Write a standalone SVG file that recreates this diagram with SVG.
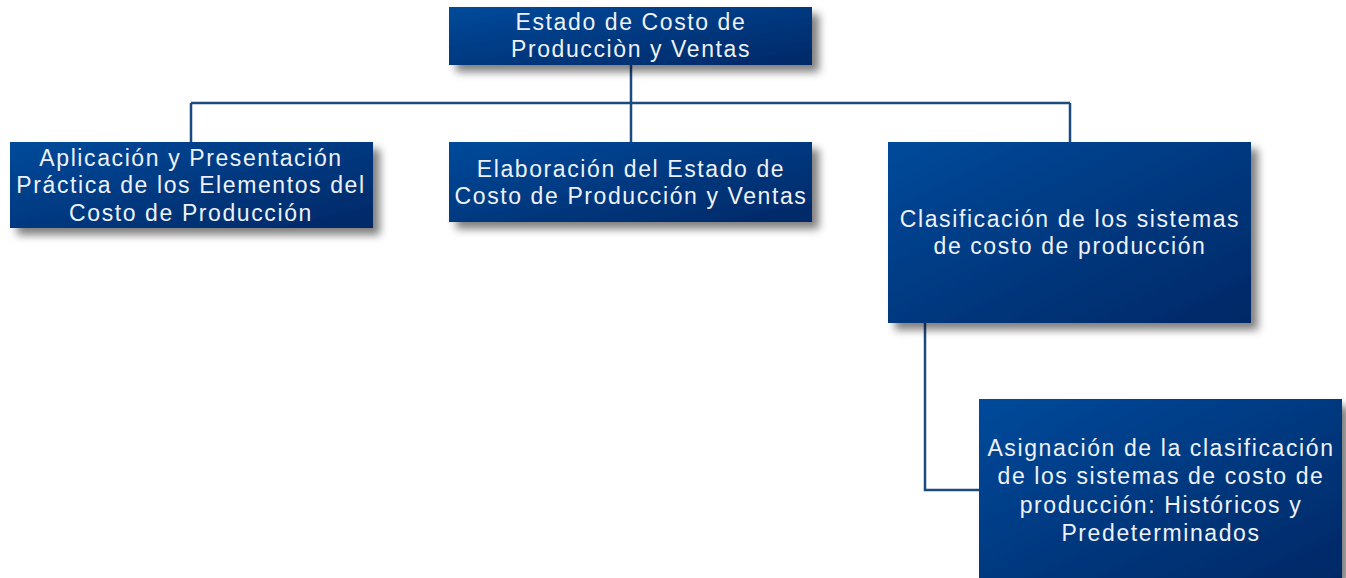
<svg xmlns="http://www.w3.org/2000/svg" width="1346" height="578" viewBox="0 0 1346 578">
<defs>
<linearGradient id="g" x1="0" y1="0" x2="1" y2="1">
<stop offset="0" stop-color="#004a9b"/>
<stop offset="1" stop-color="#002866"/>
</linearGradient>
<filter id="sh" x="-10%" y="-20%" width="125%" height="150%">
<feGaussianBlur in="SourceAlpha" stdDeviation="4"/>
<feOffset dx="7" dy="7" result="b"/>
<feComponentTransfer><feFuncA type="linear" slope="0.5"/></feComponentTransfer>
<feMerge><feMergeNode/><feMergeNode in="SourceGraphic"/></feMerge>
</filter>
</defs>
<style>
.box{fill:url(#g);filter:url(#sh);}
.t{font-family:"Liberation Sans",Arial,sans-serif;font-size:23px;letter-spacing:1.6px;fill:#eef2f8;text-anchor:middle;}
.c{fill:none;stroke:#1b4a80;stroke-width:2.5;}
</style>
<rect width="1346" height="578" fill="#ffffff"/>
<g id="connectors">
<path class="c" d="M631 65 V103 M191 103 H1070 M191 103 V142 M631 103 V142 M1070 103 V142"/>
<path class="c" d="M925 323 V490 H979"/>
</g>
<g id="root">
<rect class="box" x="449" y="7" width="363" height="58"/>
<text class="t" x="631" y="30">Estado de Costo de</text>
<text class="t" x="631" y="57">Producciòn y Ventas</text>
</g>
<g id="n1">
<rect class="box" x="10" y="142" width="363" height="86"/>
<text class="t" x="191" y="166">Aplicación y Presentación</text>
<text class="t" x="191" y="193">Práctica de los Elementos del</text>
<text class="t" x="191" y="221">Costo de Producción</text>
</g>
<g id="n2">
<rect class="box" x="449" y="142" width="363" height="80"/>
<text class="t" x="631" y="177">Elaboración del Estado de</text>
<text class="t" x="631" y="204">Costo de Producción y Ventas</text>
</g>
<g id="n3">
<rect class="box" x="888" y="142" width="363" height="181"/>
<text class="t" x="1070" y="227">Clasificación de los sistemas</text>
<text class="t" x="1070" y="254">de costo de producción</text>
</g>
<g id="n4">
<rect class="box" x="979" y="399" width="363" height="179"/>
<text class="t" x="1161" y="456">Asignación de la clasificación</text>
<text class="t" x="1161" y="484">de los sistemas de costo de</text>
<text class="t" x="1161" y="513">producción: Históricos y</text>
<text class="t" x="1161" y="541">Predeterminados</text>
</g>
</svg>
